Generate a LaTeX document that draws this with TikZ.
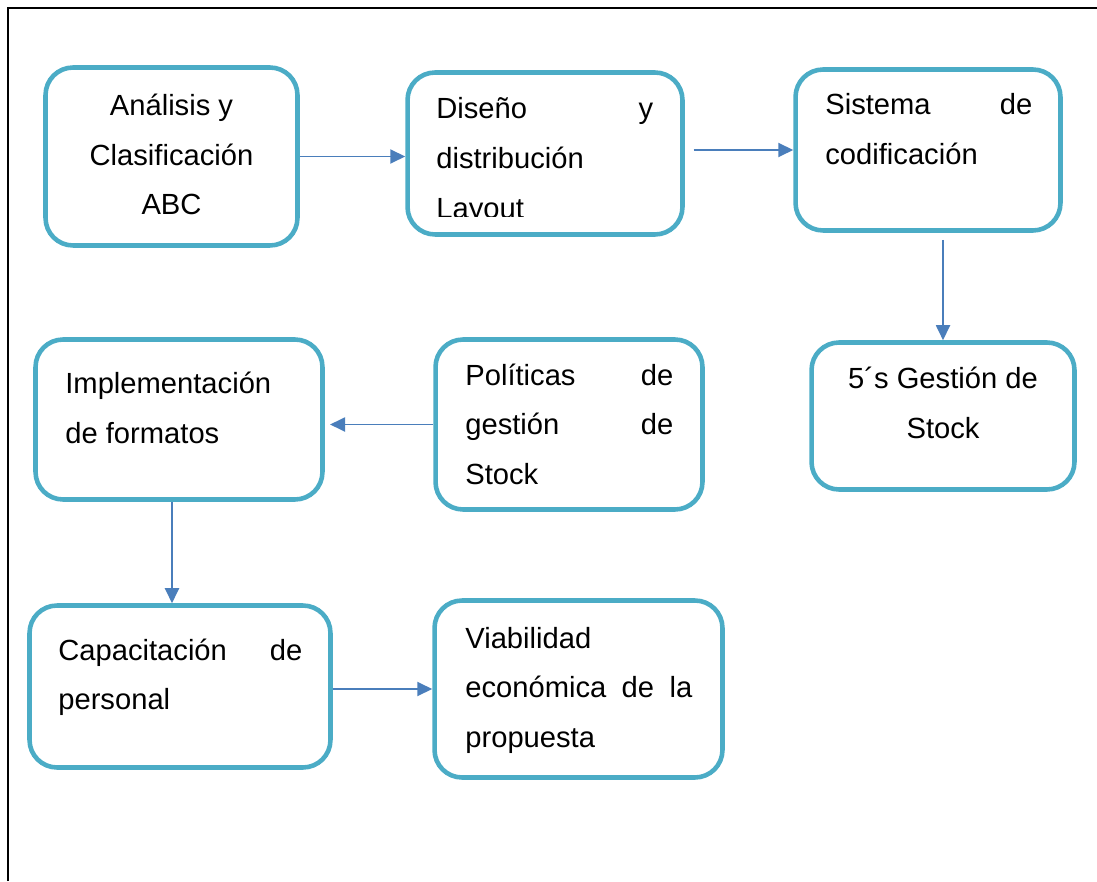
\documentclass[tikz,border=0pt]{standalone}
\usepackage{fontspec}
\setmainfont{Liberation Sans}
\usetikzlibrary{arrows.meta}
\definecolor{boxblue}{HTML}{4BACC6}
\definecolor{arrowblue}{HTML}{4A7EBB}

\begin{document}
\begin{tikzpicture}
	[x=0.02cm,y=-0.02cm,
	box/.style={rectangle,rounded corners=0.55cm,draw=boxblue,line width=2.6pt,fill=white,inner sep=0pt},
	txt/.style={inner sep=0pt,font=\fontsize{16.6}{28.45}\selectfont},
	flow/.style={-{Triangle[length=0.3cm,width=0.28cm]},draw=arrowblue,line width=1.1pt}]
	\useasboundingbox (0,0) rectangle (1097,881);
	\draw[line width=1.2pt] (8,881) -- (8,8) -- (1097,8);
	% boxes
	\node[box,minimum width=5.04cm,minimum height=3.56cm] (ana) at (171.5,156.5) {};
	\node[box,minimum width=5.5cm,minimum height=3.24cm] (dis) at (545,153.5) {};
	\node[box,minimum width=5.3cm,minimum height=3.22cm] (sis) at (928,150) {};
	\node[box,minimum width=5.26cm,minimum height=2.94cm] (ges) at (943,416) {};
	\node[box,minimum width=5.34cm,minimum height=3.4cm] (pol) at (569,424.5) {};
	\node[box,minimum width=5.74cm,minimum height=3.2cm] (imp) at (179,419.5) {};
	\node[box,minimum width=6.02cm,minimum height=3.24cm] (cap) at (180,686.5) {};
	\node[box,minimum width=5.76cm,minimum height=3.54cm] (via) at (578.5,689) {};
	% texts
	\node[txt,align=center,anchor=base] (anatxt) at (171.5,215) {Análisis y\\Clasificación\\ABC};
	\begin{scope}
		\clip (400,60) rectangle (690,217);
		\node[txt,text width=4.34cm,align=left,anchor=base west] (distxt) at (436,119) {Diseño\hfill y\\distribución\\Layout};
	\end{scope}
	\node[txt,text width=4.14cm,align=left,anchor=base west] (sistxt) at (825,115) {Sistema\hfill de\\codificación};
	\node[txt,align=center,anchor=base] (gestxt) at (943,438) {5´s Gestión de\\Stock};
	\node[txt,text width=4.16cm,align=left,anchor=base west] (poltxt) at (465,385) {Políticas\hfill de\\gestión\hfill de\\Stock};
	\node[txt,align=left,anchor=base west] (imptxt) at (65,443) {Implementación\\de formatos};
	\node[txt,text width=4.88cm,align=left,anchor=base west] (captxt) at (58,660) {Capacitación\hfill de\\personal};
	\node[txt,text width=4.54cm,align=left,anchor=base west] (viatxt) at (465,648) {Viabilidad\\económica\hfill de\hfill la\\propuesta};
	% connectors
	\path (ana.east) edge[flow] (ana.east -| dis.west);
	\path (sis.west -| dis.east) edge[flow, shorten <=5pt] (sis.west);
	\path (ges.north |- sis.south) edge[flow, shorten <=4pt] (ges.north);
	\path (pol.west) edge[flow, shorten >=3pt] (pol.west -| imp.east);
	\path ([xshift=-0.14cm]imp.south) edge[flow] ([xshift=-0.14cm]imp.south |- cap.north);
	\path (via.west -| cap.east) edge[flow] (via.west);
\end{tikzpicture}
\end{document}
